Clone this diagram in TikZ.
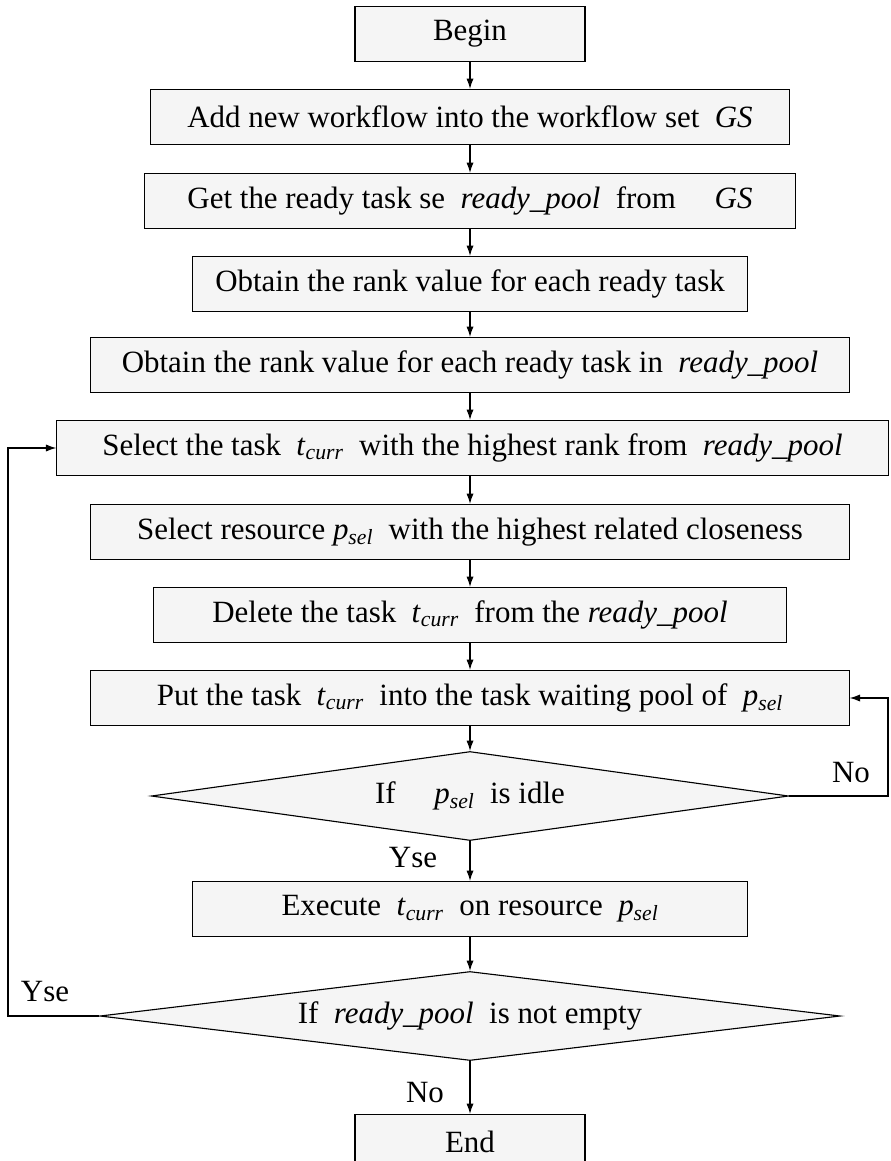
\documentclass[tikz,border=0pt]{standalone}
\usepackage{fontspec}
\setmainfont{Liberation Serif}
\usetikzlibrary{shapes.geometric, arrows.meta}
\newcommand{\tvar}[2]{\textit{#1}\textsubscript{\textit{#2}}}
\newcommand{\rpool}{\textit{ready\_pool}}

\begin{document}
\begin{tikzpicture}[x=0.025cm, y=-0.025cm, line width=0.8pt,
  font=\fontsize{22}{26}\selectfont,
  stepbox/.style={draw, fill=black!4, minimum height=1.375cm, inner sep=2pt},
  decide/.style={draw, diamond, fill=black!4, inner sep=0pt, minimum height=2.225cm},
  flow/.style={-{Latex[length=2.6mm, width=1.8mm]}}]

  \clip (0,0) rectangle (890,1161);

  % 流程框
  \node[stepbox, minimum width=5.75cm]   (begin) at (470,34)  {Begin};
  \node[stepbox, minimum width=15.95cm]  (add)   at (470,117) {Add new workflow into the workflow set \ \textit{GS}};
  \node[stepbox, minimum width=16.25cm]  (get)   at (470,201) {Get the ready task se \ \rpool\ \ from \quad \textit{GS}};
  \node[stepbox, minimum width=13.875cm] (rank)  at (470,284) {Obtain the rank value for each ready task};
  \node[stepbox, minimum width=18.95cm]  (rankp) at (470,365) {Obtain the rank value for each ready task in \ \rpool};
  \node[stepbox, minimum width=20.775cm] (sel)   at (472.5,448) {Select the task \ \tvar{t}{curr} \ with the highest rank from \ \rpool};
  \node[stepbox, minimum width=18.95cm]  (res)   at (470,532) {Select resource \tvar{p}{sel} \ with the highest related closeness};
  \node[stepbox, minimum width=15.825cm] (del)   at (470,615) {Delete the task \ \tvar{t}{curr} \ from the \rpool};
  \node[stepbox, minimum width=18.95cm]  (put)   at (470,698) {Put the task \ \tvar{t}{curr} \ into the task waiting pool of \ \tvar{p}{sel}};
  \node[decide, minimum width=15.925cm, aspect=7] (idle) at (470,796) {If \quad \tvar{p}{sel} \ is idle};
  \node[stepbox, minimum width=13.875cm] (exec)  at (470,909) {Execute \ \tvar{t}{curr} \ on resource \ \tvar{p}{sel}};
  \node[decide, minimum width=18.5cm, aspect=8.3] (empty) at (470,1016) {If \ \rpool\ \ is not empty};
  \node[stepbox, minimum width=5.75cm]   (end)   at (470,1142) {End};

  % 主干箭头
  \draw[flow] (begin) -- (add);
  \draw[flow] (add)   -- (get);
  \draw[flow] (get)   -- (rank);
  \draw[flow] (rank)  -- (rankp);
  \draw[flow] (rankp) -- (rankp.south |- sel.north);
  \draw[flow] (res.north |- sel.south) -- (res);
  \draw[flow] (res)   -- (del);
  \draw[flow] (del)   -- (put);
  \draw[flow] (put)   -- (idle);
  \draw[flow] (idle)  -- (exec);
  \draw[flow] (exec)  -- (empty);
  \draw[flow] (empty) -- (end);

  % 两个回路
  \coordinate (noturn)  at (888,796);
  \coordinate (yesturn) at (8,1016);
  \draw[flow] (idle.east) -- (noturn) |- (put.east);
  \draw[flow] (empty.west) -- (yesturn) |- (sel.west);

  % 标签
  \node (yes1) at (413,858)  {Yse};
  \node (no1)  at (851,773)  {No};
  \node (yes2) at (45,992)   {Yse};
  \node (no2)  at (425,1093) {No};
\end{tikzpicture}
\end{document}
